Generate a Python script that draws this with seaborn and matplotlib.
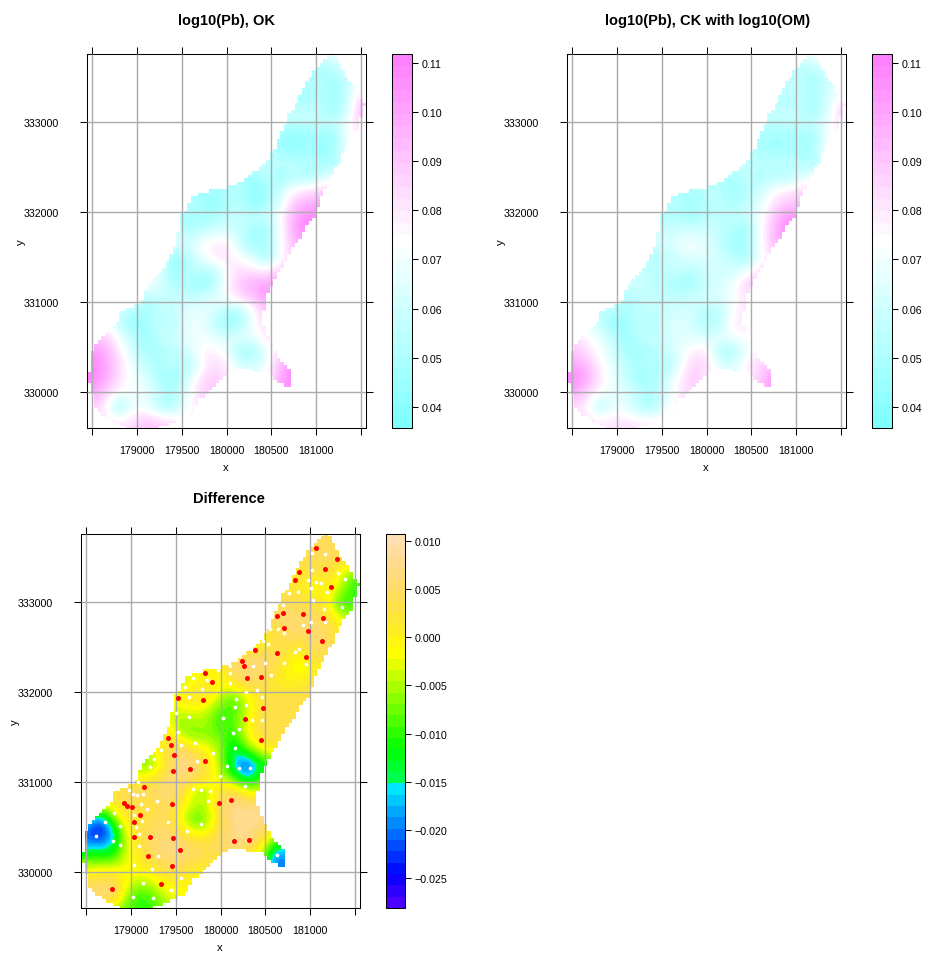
import colorsys
import numpy as np
import pandas as pd
import seaborn as sns
import matplotlib
matplotlib.use("Agg")
import matplotlib.pyplot as plt
from matplotlib.colors import ListedColormap, Normalize
from matplotlib.path import Path
from matplotlib.cm import ScalarMappable

W, H = 931, 954

grid_x = [178500 + 150 * i for i in range(21)]
grid_y = [329550 + 150 * i for i in range(29)]

# each row: (row y, first x, values read eastwards)
ok_rows = [
 (333750,181050,[.064,.068,.07]),
 (333600,181050,[.048,.056,.064]),
 (333450,180900,[.056,.054,.044,.056,.075]),
 (333300,180900,[.045,.055,.047,.058,.085]),
 (333150,180750,[.058,.056,.055,.042,.06,.095]),
 (333000,180600,[.056,.054,.057,.057,.058,.068,.09]),
 (332850,180600,[.048,.04,.045,.048,.04,.075]),
 (332700,180600,[.048,.04,.048,.042,.05,.07]),
 (332550,180450,[.058,.056,.056,.054,.05,.046,.068]),
 (332400,180300,[.046,.056,.044,.054,.046,.058,.068]),
 (332250,179850,[.046,.054,.056,.04,.046,.058,.075,.082,.085]),
 (332100,179550,[.054,.052,.04,.05,.052,.041,.047,.066,.09,.096,.10]),
 (331950,179550,[.048,.047,.048,.058,.058,.056,.06,.072,.098,.108]),
 (331800,179400,[.07,.048,.056,.06,.062,.056,.048,.043,.07,.10,.11]),
 (331650,179400,[.07,.06,.072,.08,.082,.06,.044,.053,.07,.095]),
 (331500,179250,[.07,.042,.048,.068,.078,.082,.072,.065,.043,.072,.09]),
 (331350,179250,[.068,.042,.054,.053,.053,.075,.085,.08,.08,.088]),
 (331200,179100,[.072,.066,.05,.053,.042,.048,.075,.09,.10,.10]),
 (331050,178950,[.07,.05,.058,.058,.056,.06,.068,.072,.085,.09,.105]),
 (330900,178800,[.058,.052,.047,.056,.056,.066,.068,.063,.05,.048,.072,.092]),
 (330750,178650,[.075,.058,.042,.048,.058,.05,.067,.07,.058,.043,.05,.072,.085]),
 (330600,178650,[.09,.072,.058,.041,.058,.06,.067,.072,.068,.064,.068,.068,.08]),
 (330450,178500,[.105,.098,.08,.06,.05,.048,.053,.058,.075,.08,.07,.046,.044,.068,.085]),
 (330300,178500,[.11,.10,.085,.068,.055,.052,.058,.047,.07,.085,.08,.063,.063,.07,.095,.105]),
 (330150,178500,[.11,.098,.082,.07,.065,.047,.043,.06,.082,.09,.08,.068,.066,.072,.10,.11]),
 (330000,178500,[.10,.088,.075,.072,.07,.06,.05,.065,.085,.09,.09,.08,.08,.09,.10,.11]),
 (329850,178500,[.09,.078,.041,.068,.068,.047,.048,.07,.085]),
 (329700,178650,[.08,.075,.082,.09,.085,.078,.075]),
 (329550,178950,[.085,.092,.09]),
]

ck_rows = [
 (333750,181050,[.062,.075,.07]),
 (333600,181050,[.05,.056,.062]),
 (333450,180900,[.062,.056,.047,.058,.072]),
 (333300,180900,[.05,.056,.05,.062,.072]),
 (333150,180750,[.058,.056,.056,.044,.062,.088]),
 (333000,180600,[.056,.055,.056,.056,.058,.068,.085]),
 (332850,180600,[.05,.047,.047,.052,.044,.074]),
 (332700,180600,[.05,.045,.05,.046,.052,.073]),
 (332550,180450,[.058,.055,.056,.056,.056,.048,.068]),
 (332400,180300,[.05,.056,.047,.056,.048,.062,.07]),
 (332250,179850,[.05,.056,.055,.045,.052,.06,.072,.078,.085]),
 (332100,179550,[.055,.054,.045,.054,.055,.05,.055,.066,.082,.09,.09]),
 (331950,179550,[.05,.05,.045,.055,.054,.056,.058,.07,.09,.105]),
 (331800,179400,[.066,.058,.062,.062,.06,.056,.05,.045,.07,.095,.11]),
 (331650,179400,[.062,.06,.068,.072,.066,.058,.044,.052,.07,.095]),
 (331500,179250,[.06,.05,.056,.062,.066,.064,.06,.056,.045,.07,.085]),
 (331350,179250,[.06,.052,.058,.058,.05,.062,.062,.06,.068,.085]),
 (331200,179100,[.06,.06,.055,.052,.045,.05,.058,.062,.07,.09]),
 (331050,178950,[.062,.05,.056,.058,.056,.058,.06,.062,.065,.07,.082]),
 (330900,178800,[.058,.052,.048,.056,.055,.058,.062,.06,.052,.052,.075,.085]),
 (330750,178650,[.068,.058,.042,.047,.056,.05,.062,.066,.062,.048,.056,.078,.083]),
 (330600,178500,[.09,.075,.07,.058,.042,.056,.056,.062,.065,.066,.065,.066,.072,.072]),
 (330450,178500,[.09,.085,.072,.062,.048,.048,.05,.058,.066,.08,.08,.05,.046,.07,.08]),
 (330300,178500,[.10,.095,.078,.066,.055,.05,.055,.048,.066,.088,.085,.064,.064,.08,.085,.092]),
 (330150,178500,[.11,.10,.082,.068,.058,.044,.05,.058,.08,.09,.08,.068,.066,.072,.09,.105]),
 (330000,178500,[.10,.088,.074,.068,.064,.058,.05,.062,.08,.085,.085,.08,.08,.085,.09,.105]),
 (329850,178500,[.085,.078,.05,.066,.066,.05,.047,.068,.082]),
 (329700,178650,[.082,.076,.08,.08,.075,.074,.076]),
 (329550,178950,[.082,.086,.082]),
]

diff_rows = [
 (333750,181050,[.004,.005,.005]),
 (333600,181050,[.004,.005,.004]),
 (333450,180900,[.003,.004,.004,.003,-.002]),
 (333300,180900,[.002,.001,.003,-.003,-.008]),
 (333150,180750,[.002,.001,-.003,.001,-.005,-.011]),
 (333000,180600,[.002,.004,.003,.002,.000,-.011,-.009]),
 (332850,180600,[.006,.007,.005,.005,.003,-.005]),
 (332700,180600,[.002,.005,.006,.006,.004,.001]),
 (332550,180450,[-.002,.003,.004,.002,.006,.005,.002]),
 (332400,180300,[.005,.006,.005,.001,-.002,.004,.002]),
 (332250,179700,[-.003,-.001,-.003,.006,.007,.006,.003,-.001,-.003,.000]),
 (332100,179550,[-.004,-.002,.002,-.002,.002,.004,.004,.001,.000,.001,.002]),
 (331950,179550,[.000,.003,.002,-.004,-.009,-.002,.002,.003,.003,.003]),
 (331800,179400,[-.004,-.003,-.002,-.004,-.009,-.009,-.004,.003,.003,.003,.003]),
 (331650,179400,[.000,-.007,-.006,-.005,-.011,-.008,-.002,.004,.004,.003]),
 (331500,179250,[.000,.002,-.003,-.007,-.006,-.007,-.012,-.002,.003,.003]),
 (331350,179250,[-.003,.003,.007,.004,-.001,-.005,-.016,-.009,-.003,.001]),
 (331200,179100,[-.006,-.007,.003,.007,.006,.002,-.005,-.017,-.024,-.013]),
 (331050,178950,[-.002,-.002,.001,.005,.007,.005,.002,-.004,-.009,-.018,-.009]),
 (330900,178800,[.003,.005,.006,.005,.007,.005,-.005,-.006,.003,.004,-.002,-.004]),
 (330750,178650,[-.001,.000,.004,.002,.002,.006,.001,-.004,-.004,.005,.008,.007,.007]),
 (330600,178500,[-.012,-.021,-.007,.002,.002,.004,.004,-.002,-.009,-.007,.004,.008,.008,.008]),
 (330450,178500,[-.021,-.027,-.017,-.002,.003,.005,.006,.003,-.003,-.002,.004,.007,.008,.006,-.002]),
 (330300,178500,[-.018,-.018,-.016,-.002,.002,.006,.007,.007,.005,.004,.006,.008,.007,.001,-.012,-.015]),
 (330150,178500,[-.008,-.009,-.009,-.003,.001,.004,.006,.006,.004,.003,.002,-.001,-.002,-.004,-.021,-.019]),
 (330000,178500,[-.001,.000,.001,-.001,-.001,.000,.003,.003,.000,.000,.002,-.002,-.004,-.008,-.02,-.02]),
 (329850,178500,[.005,.006,.006,-.002,-.007,-.004,-.001,-.001,-.001]),
 (329700,178650,[.006,.005,-.007,-.011,-.009,-.003,-.002]),
 (329550,178950,[-.008,-.01,-.009]),
]

# stepped outline of the prediction area: west and east edge of each 40 m row, north to south
mask_left = [181156,181124,181093,181046,181000,180978,180955,180918,180881,180862,180844,180824,
             180803,180782,180762,180742,180721,180698,180676,180662,180647,180628,180610,180588,
             180565,180565,180565,180532,180498,180470,180442,180392,180342,180299,180256,180188,
             180119,180015,179810,179688,179606,179584,179561,179540,179520,179500,179483,179483,
             179483,179460,179439,179439,179439,179424,179409,179386,179364,179345,179327,179304,
             179282,179240,179197,179160,179123,179104,179085,179085,179085,179024,178963,178885,
             178807,178807,178807,178766,178725,178682,178639,178596,178554,178535,178517,178498,
             178480,178480,178480,178480,178480,178460,178442,178460,178480,178480,178480,178500,
             178520,178520,178520,178560,178602,178664,178725,178800,178881]
mask_right = [181200,181220,181241,181264,181286,181306,181327,181368,181408,181427,181446,181468,
              181490,181524,181557,181538,181520,181505,181490,181486,181483,181460,181438,181404,
              181371,181349,181327,181308,181290,181290,181290,181247,181204,181186,181167,181143,
              181119,181106,181093,181065,181037,181037,181037,181018,181000,180982,180963,180926,
              180888,180866,180844,180820,180795,180758,180721,180702,180684,180666,180647,180622,
              180598,180576,180554,180536,180517,180498,180479,180460,180442,180442,180442,180424,
              180405,180405,180405,180414,180424,180433,180442,180464,180487,180506,180524,180548,
              180572,180610,180647,180684,180070,180015,179959,179912,179866,179838,179810,179755,
              179699,179671,179643,179624,179606,179522,179439,179346,179253]
# second run on the rows where the south-eastern spur is detached
spur_y = [330240,330200,330160,330120,330080]
spur_left = [180280,180480,180517,180554,180647]
spur_right = [180721,180721,180721,180721,180721]

red_x = [181070,181301,181167,180877,180832,181234,180702,180628,180925,181148,180706,180974,181137,
         180386,180632,180955,180238,180267,179829,179903,180294,180453,179528,179799,180476,180271,
         180453,179416,179446,179476,179821,179658,179472,179141,178915,178955,179007,179097,179037,
         179461,179981,180115,179030,179208,179468,180152,180323,179546,179186,179457,178788,179338]
red_y = [333610,333483,333368,333338,333245,333167,332881,332844,332874,332822,332714,332684,332569,
         332476,332442,332398,332350,332294,332216,332112,332156,332171,331933,331918,331822,331703,
         331472,331491,331420,331301,331238,331145,331123,330952,330773,330740,330721,330632,330558,
         330762,330769,330799,330390,330394,330375,330349,330361,330242,330178,330067,329818,329866]
white_x = [181026,181167,181026,181308,181394,180974,181063,181119,181015,181193,180866,180766,181037,
           180695,181353,181152,181011,181167,180918,180557,180643,180706,180479,180531,180881,180832,
           180498,180710,180959,180357,180108,179974,180100,179688,179851,180565,179606,179792,180108,
           180412,180286,179643,180175,180464,180163,180282,179498,179643,180030,180349,180468,
           179524,180137,180201,179561,179717,180163,179918,179732,179256,179335,179212,180067,180204,
           180331,179992,179074,180275,178981,179022,179067,179130,179695,179777,179885,179855,179294,
           179112,179182,179033,179119,179409,178810,178703,178877,179059,179784,179621,179085,178606,
           178803,178877,179085,179305,180628,179033,179238,179554,179138,179446,179026,179249]
white_y = [333554,333535,333361,333327,333256,333249,333227,333212,333156,333112,333115,333100,333030,
           332970,332944,332922,332777,332777,332751,332703,332706,332662,332576,332535,332483,332450,
           332327,332327,332316,332297,332294,332253,332212,332160,332141,332193,332056,332034,332100,
           332030,332008,331952,331922,331944,331837,331855,331770,331725,331718,331695,331688,
           331561,331546,331587,331420,331435,331383,331323,331241,331260,331364,331171,331182,331156,
           331156,331067,331007,330959,330918,330870,330859,330866,330929,330914,330907,330795,330792,
           330755,330703,330639,330572,330561,330662,330554,330513,330506,330535,330453,330427,330401,
           330346,330305,330286,330175,330186,330078,330041,329937,329885,329803,329729,329710]

x_ticks = [178500,179000,179500,180000,180500,181000,181500]
x_tick_labels = ["","179000","179500","180000","180500","181000",""]
y_ticks = [330000,331000,332000,333000]
y_tick_labels = ["330000","331000","332000","333000"]
cb_ticks_pb = [.04,.05,.06,.07,.08,.09,.10,.11]
cb_ticks_diff = [-.025,-.020,-.015,-.010,-.005,.000,.005,.010]

sns.set_theme(style="white")
plt.rcParams["font.family"] = ["Liberation Sans", "DejaVu Sans"]
plt.rcParams["axes.unicode_minus"] = True
plt.rcParams["text.color"] = "black"
plt.rcParams["xtick.labelcolor"] = "black"
plt.rcParams["ytick.labelcolor"] = "black"


def hsv(h, s, v=1.0):
    return colorsys.hsv_to_rgb(h, s, v)


def cm_colors(n=31):
    k = n // 2
    low = [hsv(6 / 12, s) for s in np.linspace(0.5, 0, k + 1)]
    high = [hsv(10 / 12, s) for s in np.linspace(0, 0.5, k + 1)[1:]]
    return ListedColormap(low + high)


def topo_colors(n=33):
    j = k = n // 3
    i = n - j - k
    cols = [hsv(h, 1) for h in np.linspace(43 / 60, 31 / 60, i)]
    cols += [hsv(h, 1) for h in np.linspace(23 / 60, 11 / 60, j)]
    cols += [hsv(h, s) for h, s in zip(np.linspace(10 / 60, 6 / 60, k), np.linspace(1, 0.3, k))]
    return ListedColormap(cols)


def to_array(rows):
    arr = np.zeros((len(grid_y), len(grid_x)))
    for (y, x0, vals) in rows:
        r = grid_y.index(y)
        c = grid_x.index(x0)
        arr[r, :c] = vals[0]
        arr[r, c:c + len(vals)] = vals
        arr[r, c + len(vals):] = vals[-1]
    return arr


def snap(v):
    return 178440 + 40 * round((v - 178440) / 40)


def area_path():
    assert len(mask_left) == len(mask_right)
    mask_y = [333760 - 40 * i for i in range(len(mask_left))]
    parts = []
    for y, l, r in list(zip(mask_y, mask_left, mask_right)) + list(zip(spur_y, spur_left, spur_right)):
        l, r = snap(l), snap(r)
        parts.append(Path([(l, y - 20), (r, y - 20), (r, y + 20), (l, y + 20), (l, y - 20)], closed=True))
    return Path.make_compound_path(*parts)


def px_axes(fig, l, t, r, b):
    return fig.add_axes([l / W, 1 - b / H, (r - l) / W, (b - t) / H])


def panel(fig, rows, box, cbox, cmap, vmin, vmax, cb_ticks, cb_fmt, title, title_xy, xlab_xy, ylab_xy):
    ax = px_axes(fig, *box)
    im = ax.imshow(to_array(rows), origin="lower", aspect="auto",
                   extent=[grid_x[0] - 75, grid_x[-1] + 75, grid_y[0] - 75, grid_y[-1] + 75],
                   cmap=cmap, norm=Normalize(vmin, vmax), interpolation="bicubic",
                   interpolation_stage="data")
    im.set_clip_path(area_path(), ax.transData)
    ax.set_xlim(178440, 181558)
    ax.set_ylim(329602, 333761)
    ax.set_xticks(x_ticks, x_tick_labels)
    ax.set_yticks(y_ticks, y_tick_labels)
    ax.grid(True, color="#ABABAB", lw=1.0)
    ax.set_axisbelow(False)
    ax.tick_params(axis="both", which="major", direction="out", length=5, width=0.75, color="black",
                   labelsize=7.7, labelcolor="black", top=True, bottom=True, left=True, right=True)
    ax.tick_params(axis="x", pad=7)
    ax.tick_params(axis="y", pad=15.5)
    for s in ax.spines.values():
        s.set_visible(True)
        s.set_color("black")
        s.set_linewidth(0.75)
    fig.text(title_xy[0] / W, 1 - title_xy[1] / H, title, ha="center", va="center",
             fontsize=10.5, fontweight="bold", color="black")
    fig.text(xlab_xy[0] / W, 1 - xlab_xy[1] / H, "x", ha="center", va="center", fontsize=8.2, color="black")
    fig.text(ylab_xy[0] / W, 1 - ylab_xy[1] / H, "y", ha="center", va="center", fontsize=8.2,
             rotation=90, color="black")

    cax = px_axes(fig, *cbox)
    cb = fig.colorbar(ScalarMappable(norm=Normalize(vmin, vmax), cmap=cmap), cax=cax)
    cb.set_ticks(cb_ticks)
    cb.set_ticklabels([cb_fmt.format(v).replace("-", "\u2212") for v in cb_ticks])
    cax.tick_params(direction="out", length=4.5, width=0.75, color="black", labelsize=7.7, pad=2.2,
                    labelcolor="black", right=True, left=False)
    cb.outline.set_edgecolor("black")
    cb.outline.set_linewidth(0.75)
    return ax


fig = plt.figure(figsize=(W / 100, H / 100), dpi=100, facecolor="white")

panel(fig, ok_rows, (87, 55, 366, 429), (392, 55, 412, 429), cm_colors(), 0.0357, 0.1118,
      cb_ticks_pb, "{:.2f}", "log10(Pb), OK", (226, 21), (226, 468), (21, 242))
panel(fig, ck_rows, (567, 55, 846, 429), (872, 55, 892, 429), cm_colors(), 0.0357, 0.1118,
      cb_ticks_pb, "{:.2f}", "log10(Pb), CK with log10(OM)", (708, 21), (706, 468), (501, 242))
ax3 = panel(fig, diff_rows, (81, 535, 360, 909), (386, 535, 405, 909), topo_colors(), -0.02811, 0.01073,
            cb_ticks_diff, "{:.3f}", "Difference", (229, 499), (220, 948), (15, 722))

white_pts = pd.DataFrame({"x": white_x, "y": white_y})
red_pts = pd.DataFrame({"x": red_x, "y": red_y})
sns.scatterplot(data=white_pts, x="x", y="y", ax=ax3, color="white", s=7, linewidth=0, legend=False, zorder=5)
sns.scatterplot(data=red_pts, x="x", y="y", ax=ax3, color="#FF0000", s=13, linewidth=0, legend=False, zorder=6)
ax3.set_xlabel("")
ax3.set_ylabel("")

fig.savefig("out.png", dpi=100)
